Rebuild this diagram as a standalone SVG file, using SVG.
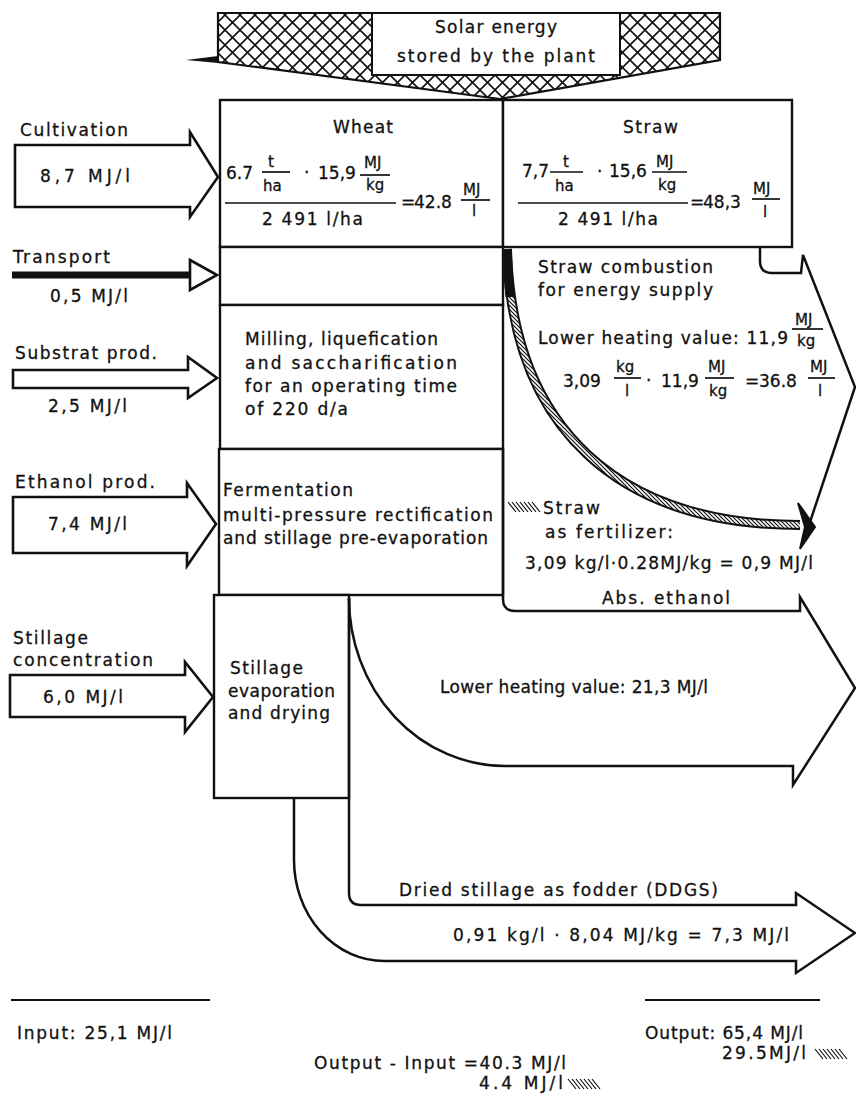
<svg xmlns="http://www.w3.org/2000/svg" width="856" height="1095" viewBox="0 0 856 1095">
<style>
.t{font-family:"DejaVu Sans",sans-serif;font-size:17px;fill:#111;stroke:#111;stroke-width:0.3}
.s{font-size:15px}
.b{font-size:17px}
.ln{stroke:#111;stroke-width:2.5;fill:none}
.box{fill:#fff;stroke:#111;stroke-width:2.4}
.arr{fill:#fff;stroke:#111;stroke-width:2.6;stroke-linejoin:miter}
.fr{stroke:#111;stroke-width:1.7}
.h{stroke:#111;stroke-width:1.2}
</style>
<defs>
<pattern id="xh" width="15" height="15" patternUnits="userSpaceOnUse">
<path d="M0,0 L15,15 M15,0 L0,15" stroke="#111" stroke-width="1.6"/>
</pattern>
<pattern id="diag" width="4" height="4" patternUnits="userSpaceOnUse">
<rect width="4" height="4" fill="#fff"/>
<path d="M0,0 L4,4 M-1,3 L1,5 M3,-1 L5,1" stroke="#111" stroke-width="1.2"/>
</pattern>
<g id="hatchIcon"><path class="h" d="M0,0 L8,10 M4,0 L12,10 M8,0 L16,10 M12,0 L20,10 M16,0 L24,10 M20,0 L28,10 M24,0 L32,10"/></g>
</defs>
<rect width="856" height="1095" fill="#fff"/>

<g id="solar">
<path d="M218,13 L720,13 L720,60 L500,99 L218,62 Z" fill="url(#xh)" stroke="#111" stroke-width="2.2"/>
<path d="M186,60 L218,56 L218,63 Z" fill="#111"/>
<rect x="372" y="13" width="248" height="62" fill="#fff" stroke="#111" stroke-width="2"/>
<text class="t" x="496" y="33" text-anchor="middle" textLength="122">Solar energy</text>
<text class="t" x="496" y="62" text-anchor="middle" textLength="198">stored by the plant</text>
</g>

<g id="wheat">
<rect class="box" x="220" y="100" width="283" height="147"/>
<text class="t" x="333" y="133" textLength="60">Wheat</text>
<text class="t" x="226" y="179">6.7</text>
<text class="t s" x="268" y="167">t</text>
<line class="fr" x1="262" y1="172" x2="290" y2="172"/>
<text class="t s" x="263" y="191">ha</text>
<text class="t" x="304" y="178">·</text>
<text class="t" x="318" y="179">15,9</text>
<text class="t s" x="364" y="168">MJ</text>
<line class="fr" x1="360" y1="175" x2="390" y2="175"/>
<text class="t s" x="366" y="190">kg</text>
<line class="fr" x1="225" y1="203" x2="396" y2="203"/>
<text class="t" x="401" y="208">=</text>
<text class="t" x="414" y="208">42.8</text>
<text class="t s" x="463" y="195">MJ</text>
<line class="fr" x1="461" y1="200" x2="490" y2="200"/>
<text class="t s" x="472" y="216">l</text>
<text class="t" x="262" y="225" textLength="101">2 491 l/ha</text>
</g>

<g id="straw">
<rect class="box" x="503" y="100" width="289" height="147"/>
<text class="t" x="623" y="133" textLength="55">Straw</text>
<text class="t" x="522" y="177">7,7</text>
<text class="t s" x="563" y="167">t</text>
<line class="fr" x1="550" y1="172" x2="583" y2="172"/>
<text class="t s" x="555" y="191">ha</text>
<text class="t" x="597" y="177">·</text>
<text class="t" x="609" y="177">15,6</text>
<text class="t s" x="656" y="167">MJ</text>
<line class="fr" x1="652" y1="172" x2="687" y2="172"/>
<text class="t s" x="658" y="190">kg</text>
<line class="fr" x1="518" y1="203" x2="688" y2="203"/>
<text class="t" x="690" y="208">=</text>
<text class="t" x="703" y="208">48,3</text>
<text class="t s" x="753" y="194">MJ</text>
<line class="fr" x1="752" y1="199" x2="780" y2="199"/>
<text class="t s" x="763" y="217">l</text>
<text class="t" x="558" y="225" textLength="100">2 491 l/ha</text>
</g>

<g id="transport-box">
<rect class="box" x="220" y="247" width="283" height="58"/>
</g>

<g id="milling">
<rect class="box" x="220" y="305" width="283" height="144"/>
<text class="t" x="245" y="345" textLength="193">Milling, liquefication</text>
<text class="t" x="245" y="369" textLength="212">and saccharification</text>
<text class="t" x="245" y="392" textLength="212">for an operating time</text>
<text class="t" x="245" y="415" textLength="103">of 220 d/a</text>
</g>

<g id="fermentation">
<rect class="box" x="219" y="449" width="284" height="146"/>
<text class="t" x="223" y="496" textLength="130">Fermentation</text>
<text class="t" x="223" y="521" textLength="270">multi-pressure rectification</text>
<text class="t" x="223" y="544" textLength="265">and stillage pre-evaporation</text>
</g>

<g id="stillage">
<rect class="box" x="214" y="595" width="135" height="203"/>
<text class="t" x="230" y="674" textLength="73">Stillage</text>
<text class="t" x="228" y="697" textLength="107">evaporation</text>
<text class="t" x="228" y="719" textLength="102">and drying</text>
</g>

<g id="inputs">
<text class="t" x="20" y="136" textLength="108">Cultivation</text>
<path class="arr" d="M15,145 L190,145 L190,132 L218,177 L190,217 L190,207 L15,207 Z"/>
<text class="t" x="40" y="182" textLength="90">8,7 MJ/l</text>

<text class="t" x="13" y="263" textLength="97">Transport</text>
<line x1="12" y1="275" x2="191" y2="275" stroke="#111" stroke-width="7"/>
<path class="arr" d="M190,260 L217,275 L190,290 Z"/>
<text class="t" x="50" y="302" textLength="78">0,5 MJ/l</text>

<text class="t" x="15" y="359" textLength="142">Substrat prod.</text>
<path class="arr" d="M13,370 L188,370 L188,357 L217,378 L188,398 L188,388 L13,388 Z"/>
<text class="t" x="48" y="412" textLength="79">2,5 MJ/l</text>

<text class="t" x="15" y="488" textLength="140">Ethanol prod.</text>
<path class="arr" d="M13,497 L187,497 L187,483 L216,524 L187,566 L187,553 L13,553 Z"/>
<text class="t" x="48" y="530" textLength="79">7,4 MJ/l</text>

<text class="t" x="13" y="644" textLength="75">Stillage</text>
<text class="t" x="13" y="666" textLength="140">concentration</text>
<path class="arr" d="M10,675 L185,675 L185,662 L213,697 L185,732 L185,717 L10,717 Z"/>
<text class="t" x="43" y="703" textLength="80">6,0 MJ/l</text>
</g>

<g id="connectors">
<path class="ln" d="M760,247 L760,261 Q760,273 772,273 L801,273 L803,255 L855,387 L808,528"/>
<path d="M507,249 C512,430 620,525 800,525" fill="none" stroke="#111" stroke-width="10"/>
<path d="M507,249 C512,430 620,525 800,525" fill="none" stroke="url(#diag)" stroke-width="6"/>
<path d="M507,249 C508,270 509,285 510,297" fill="none" stroke="#111" stroke-width="9"/>
<path d="M798,503 L815,527 L800,549 L805,527 Z" fill="#111" stroke="#111" stroke-width="2"/>
<path class="ln" d="M503,449 L503,599 Q503,611 515,611 L800,611 L800,597 L855,688 L793,785 L793,766 L505,766 A156,168 0 0 1 349,598"/>
<path class="ln" d="M349,598 L349,893 Q349,905 361,905 L796,905 L796,893 L855,933 L796,973 L796,961 L384,961 A90,101 0 0 1 294,860 L294,798"/>
</g>

<g id="outputs">
<text class="t" x="538" y="273" textLength="175">Straw combustion</text>
<text class="t" x="538" y="296" textLength="175">for energy supply</text>
<text class="t" x="538" y="344" textLength="250">Lower heating value: 11,9</text>
<text class="t s" x="795" y="325">MJ</text>
<line class="fr" x1="792" y1="329" x2="823" y2="329"/>
<text class="t s" x="797" y="346">kg</text>
<text class="t" x="563" y="387">3,09</text>
<text class="t s" x="616" y="372">kg</text>
<line class="fr" x1="614" y1="378" x2="641" y2="378"/>
<text class="t s" x="625" y="396">l</text>
<text class="t" x="646" y="386">·</text>
<text class="t" x="661" y="387">11,9</text>
<text class="t s" x="708" y="372">MJ</text>
<line class="fr" x1="705" y1="378" x2="734" y2="378"/>
<text class="t s" x="709" y="396">kg</text>
<text class="t" x="745" y="387">=</text>
<text class="t" x="759" y="387">36.8</text>
<text class="t s" x="810" y="372">MJ</text>
<line class="fr" x1="808" y1="378" x2="835" y2="378"/>
<text class="t s" x="818" y="396">l</text>

<use href="#hatchIcon" x="508" y="502"/>
<text class="t" x="543" y="514" textLength="57">Straw</text>
<text class="t" x="545" y="538" textLength="128">as fertilizer:</text>
<text class="t" x="525" y="569" textLength="288">3,09 kg/l·0.28MJ/kg = 0,9 MJ/l</text>
<text class="t" x="602" y="604" textLength="128">Abs. ethanol</text>
<text class="t" x="440" y="693" textLength="268">Lower heating value: 21,3 MJ/l</text>
<text class="t" x="399" y="896" textLength="319">Dried stillage as fodder (DDGS)</text>
<text class="t" x="453" y="941" textLength="336">0,91 kg/l · 8,04 MJ/kg = 7,3 MJ/l</text>
</g>

<g id="totals">
<line x1="11" y1="1000" x2="210" y2="1000" stroke="#111" stroke-width="2"/>
<line x1="645" y1="1000" x2="820" y2="1000" stroke="#111" stroke-width="2"/>
<text class="t b" x="17" y="1039" textLength="155">Input: 25,1 MJ/l</text>
<text class="t b" x="645" y="1039" textLength="158">Output: 65,4 MJ/l</text>
<text class="t b" x="806" y="1059" text-anchor="end" textLength="84">29.5MJ/l</text>
<use href="#hatchIcon" x="815" y="1049"/>
<text class="t b" x="314" y="1069" textLength="252">Output - Input =40.3 MJ/l</text>
<text class="t b" x="563" y="1089" text-anchor="end" textLength="84">4.4 MJ/l</text>
<use href="#hatchIcon" x="568" y="1079"/>
</g>
</svg>
